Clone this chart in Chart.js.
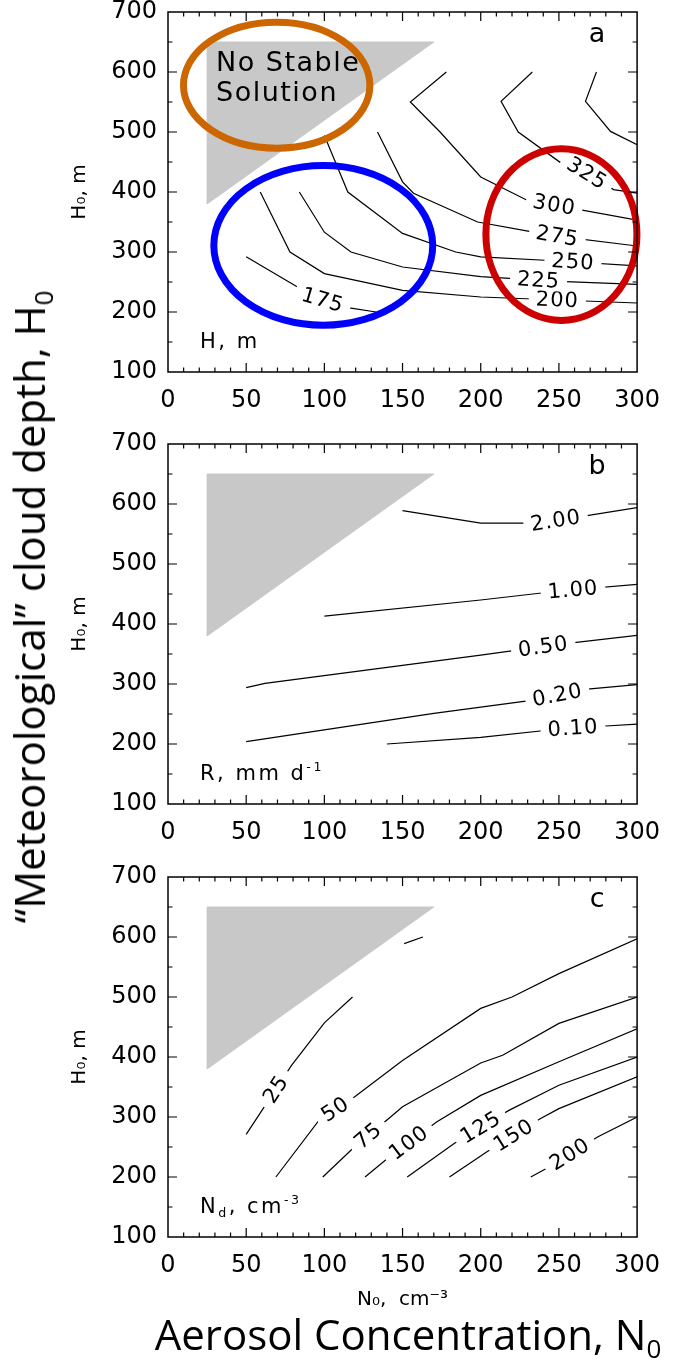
<!DOCTYPE html>
<html>
<head>
<meta charset="utf-8">
<script src="https://cdn.jsdelivr.net/npm/chart.js@4.4.1/dist/chart.umd.min.js"></script>
<style>
  html, body { margin: 0; padding: 0; background: #fff; }
  body { position: relative; width: 674px; height: 1365px; overflow: hidden; }
  canvas { position: absolute; left: 0; }
  .big { position: absolute; font-family: "Open Sans", sans-serif; font-size: 42px; line-height: 1; white-space: nowrap; color: #000; }
  .big sub { font-size: 0.62em; vertical-align: -0.3em; line-height: 0; }
  #yTitle { left: 29px; top: 607px; transform: translate(-50%, -50%) rotate(-90deg); }
  #xTitle { left: 408px; top: 1313px; transform: translateX(-50%); }
</style>
</head>
<body>
<canvas id="panelA" width="674" height="440" style="top:-18px"></canvas>
<canvas id="panelB" width="674" height="440" style="top:414px"></canvas>
<canvas id="panelC" width="674" height="470" style="top:847px"></canvas>
<div class="big" id="yTitle">“Meteorological” cloud depth, H<sub>0</sub></div>
<div class="big" id="xTitle">Aerosol Concentration, N<sub>0</sub></div>
<script>
const xTicks = [0, 50, 100, 150, 200, 250, 300];
const yTicks = [100, 200, 300, 400, 500, 600, 700];

// grey "no stable solution" region (N0, H0), same in every panel
const maskN0 = [25, 170, 25, 25];
const maskH0 = [650, 650, 380, 650];

// panel a: cloud depth H, m
const hLevels = ['175', '200', '225', '250', '275', '300', '325', ''];
const hContours = [
  [[50, 292], [82, 243], [99, 220], [116, 207], [133, 200]],
  [[59, 400], [78, 300], [100, 264], [150, 236], [200, 225], [250, 220], [300, 215]],
  [[84, 400], [100, 333], [117, 300], [150, 275], [200, 259], [250, 251], [300, 246]],
  [[100, 494], [115, 400], [150, 331], [184, 300], [200, 292], [250, 285], [300, 277]],
  [[134, 500], [150, 417], [157, 398], [198, 350], [232, 334], [250, 326], [300, 310]],
  [[178, 600], [155, 550], [174, 500], [200, 425], [229, 387], [250, 377], [300, 353]],
  [[233, 600], [213, 551], [224, 500], [251, 449], [268, 431], [285, 404], [300, 398]],
  [[274, 600], [267, 551], [283, 501], [300, 479]]
];
const hLabelAt = [99, 249, 237, 259, 249, 247, 268, null];

// highlight rings on panel a
const ringColors = ['#cc6600', '#0000ff', '#cc0000'];
const ringN0 = [69.5, 99.3, 251.6];
const ringH0 = [578, 311, 329];
const ringHalfN0 = [59.6, 70, 48.3];
const ringHalfH0 = [105, 133, 143];

// panel b: rain rate R, mm/d
const rLevels = ['2.00', '1.00', '0.50', '0.20', '0.10'];
const rContours = [
  [[150, 589], [200, 568], [238, 568], [300, 594]],
  [[100, 413], [200, 440], [250, 455], [300, 466]],
  [[50, 294], [62, 301], [200, 348], [250, 366], [300, 381]],
  [[50, 204], [170, 251], [230, 272], [270, 292], [300, 299]],
  [[140, 200], [200, 211], [250, 225], [280, 230], [300, 233]]
];
const rLabelAt = [248, 259, 240, 249, 259];

// panel c: droplet concentration Nd, cm-3
const nLevels = ['25', '', '50', '75', '100', '125', '150', '200'];
const nContours = [
  [[50, 271], [79, 386], [100, 457], [118, 500]],
  [[151, 589], [163, 600]],
  [[69, 200], [97, 296], [119, 333], [150, 394], [200, 481], [220, 500], [250, 539], [300, 597]],
  [[99, 200], [118, 247], [141, 297], [150, 317], [200, 390], [214, 403], [250, 456], [300, 500]],
  [[126, 200], [139, 228], [172, 292], [200, 336], [250, 392], [300, 447]],
  [[153, 200], [183, 256], [218, 311], [250, 353], [300, 400]],
  [[180, 200], [204, 242], [238, 297], [250, 314], [300, 367]],
  [[232, 200], [244, 217], [275, 267], [300, 300]]
];
const nLabelAt = [69, null, 107, 128, 154, 200, 221, 257];

const FONT = '"DejaVu Sans", sans-serif';
Chart.defaults.font.family = FONT;
Chart.defaults.color = '#000';

function contourSets(lines) {
  return lines.map((pts) => ({
    data: pts.map(([x, y]) => ({ x, y })),
    showLine: true, borderColor: '#000', borderWidth: 1.2,
    pointRadius: 0, fill: false, tension: 0, order: 1,
  }));
}

function maskSet() {
  return {
    data: maskN0.map((x, i) => ({ x, y: maskH0[i] })),
    showLine: true, fill: 'shape', backgroundColor: '#c8c8c8',
    borderColor: '#c8c8c8', borderWidth: 1, pointRadius: 0, order: 5,
  };
}

function labelSpot(chart, pts, atX) {
  const xs = chart.scales.x, ys = chart.scales.y;
  for (let i = pts.length - 2; i >= 0; i--) {
    const [x0, y0] = pts[i], [x1, y1] = pts[i + 1];
    if (x0 !== x1 && (atX - x0) * (atX - x1) <= 0) {
      const t = (atX - x0) / (x1 - x0);
      const px0 = xs.getPixelForValue(x0), py0 = ys.getPixelForValue(y0);
      const px1 = xs.getPixelForValue(x1), py1 = ys.getPixelForValue(y1);
      let ang = Math.atan2(py1 - py0, px1 - px0);
      if (ang > Math.PI / 2) ang -= Math.PI;
      if (ang < -Math.PI / 2) ang += Math.PI;
      return { x: px0 + t * (px1 - px0), y: py0 + t * (py1 - py0), ang };
    }
  }
  return null;
}

function drawRich(ctx, parts, x, y, size) {
  let cx = x;
  for (const p of parts) {
    const s = p.sub || p.sup ? size * 0.6 : size;
    ctx.font = `${s}px ${FONT}`;
    const dy = p.sub ? size * 0.2 : p.sup ? -size * 0.42 : 0;
    ctx.fillText(p.t, cx, y + dy);
    cx += ctx.measureText(p.t).width;
  }
}

function decor(cfg) {
  return {
    id: 'decor',
    afterDatasetsDraw(chart) {
      const { ctx, chartArea: a, scales: { x, y } } = chart;
      ctx.save();

      // contour labels with a white gap under them
      ctx.font = `21px ${FONT}`;
      ctx.letterSpacing = '1px';
      ctx.textAlign = 'center';
      ctx.textBaseline = 'middle';
      cfg.levels.forEach((lev, i) => {
        if (!lev || cfg.labelAt[i] == null) return;
        const s = labelSpot(chart, cfg.contours[i], cfg.labelAt[i]);
        if (!s) return;
        ctx.save();
        ctx.translate(s.x, s.y);
        ctx.rotate(s.ang);
        const w = ctx.measureText(lev).width;
        ctx.fillStyle = '#fff';
        ctx.fillRect(-w / 2 - 7, -10, w + 14, 20);
        ctx.fillStyle = '#000';
        ctx.fillText(lev, 0, 1);
        ctx.restore();
      });

      ctx.fillStyle = '#000';
      ctx.textAlign = 'left';
      ctx.textBaseline = 'alphabetic';
      ctx.letterSpacing = '2.5px';
      drawRich(ctx, cfg.corner, a.left + 32, a.bottom - 24, 21);

      ctx.letterSpacing = '0px';
      ctx.textAlign = 'center';
      ctx.font = `27px ${FONT}`;
      ctx.fillText(cfg.letter, a.right - 40, a.top + 30);

      if (cfg.note) {
        ctx.textAlign = 'left';
        ctx.letterSpacing = '1.5px';
        ctx.font = `27px ${FONT}`;
        cfg.note.forEach((line, i) => ctx.fillText(line, a.left + 48, a.top + 59 + i * 30));
      }

      if (cfg.rings) {
        ctx.lineWidth = 7;
        ringColors.forEach((c, i) => {
          const cx = x.getPixelForValue(ringN0[i]);
          const cy = y.getPixelForValue(ringH0[i]);
          const rx = Math.abs(x.getPixelForValue(ringN0[i] + ringHalfN0[i]) - cx);
          const ry = Math.abs(y.getPixelForValue(ringH0[i] + ringHalfH0[i]) - cy);
          ctx.strokeStyle = c;
          ctx.beginPath();
          ctx.ellipse(cx, cy, rx, ry, 0, 0, Math.PI * 2);
          ctx.stroke();
        });
      }

      // box with inward ticks on all four sides
      ctx.strokeStyle = '#000';
      ctx.lineWidth = 1.5;
      ctx.strokeRect(a.left, a.top, a.right - a.left, a.bottom - a.top);
      ctx.lineWidth = 1.2;
      ctx.beginPath();
      for (let v = 10; v < 300; v += 10) {
        const len = v % 50 === 0 ? 9 : 4.5;
        const px = x.getPixelForValue(v);
        ctx.moveTo(px, a.bottom); ctx.lineTo(px, a.bottom - len);
        ctx.moveTo(px, a.top); ctx.lineTo(px, a.top + len);
      }
      for (let v = 150; v < 700; v += 50) {
        const len = v % 100 === 0 ? 9 : 4.5;
        const py = y.getPixelForValue(v);
        ctx.moveTo(a.left, py); ctx.lineTo(a.left + len, py);
        ctx.moveTo(a.right, py); ctx.lineTo(a.right - len, py);
      }
      ctx.stroke();
      ctx.restore();
    },
  };
}

function makePanel(id, xAxisHeight, cfg, xTitle) {
  return new Chart(document.getElementById(id), {
    type: 'scatter',
    data: { datasets: [...contourSets(cfg.contours), maskSet()] },
    options: {
      responsive: false,
      animation: false,
      events: [],
      layout: { padding: { top: 30, right: 26, left: 0, bottom: 0 } },
      plugins: { legend: { display: false }, tooltip: { enabled: false } },
      scales: {
        x: {
          type: 'linear', min: 0, max: 300,
          afterBuildTicks: (s) => { s.ticks = xTicks.map((v) => ({ value: v })); },
          afterFit: (s) => { s.height = xAxisHeight; },
          grid: { display: false, drawTicks: false },
          border: { display: false },
          ticks: { font: { size: 24 }, color: '#000', padding: 14, maxRotation: 0, autoSkip: false },
          title: xTitle || { display: false },
        },
        y: {
          type: 'linear', min: 100, max: 700,
          afterBuildTicks: (s) => { s.ticks = yTicks.map((v) => ({ value: v })); },
          afterFit: (s) => { s.width = 168; },
          grid: { display: false, drawTicks: false },
          border: { display: false },
          ticks: { font: { size: 24 }, color: '#000', padding: 11, autoSkip: false },
          title: { display: true, text: 'H₀, m', font: { size: 20 }, color: '#000', padding: { top: 68, bottom: 0 } },
        },
      },
    },
    plugins: [decor(cfg)],
  });
}

makePanel('panelA', 50, {
  levels: hLevels, contours: hContours, labelAt: hLabelAt,
  letter: 'a', corner: [{ t: 'H, m' }],
  note: ['No Stable', 'Solution'], rings: true,
});

makePanel('panelB', 50, {
  levels: rLevels, contours: rContours, labelAt: rLabelAt,
  letter: 'b', corner: [{ t: 'R, mm d' }, { t: '-1', sup: true }],
});

makePanel('panelC', 80, {
  levels: nLevels, contours: nContours, labelAt: nLabelAt,
  letter: 'c', corner: [{ t: 'N' }, { t: 'd', sub: true }, { t: ', cm' }, { t: '-3', sup: true }],
}, { display: true, text: 'N₀,  cm⁻³', font: { size: 20 }, color: '#000', padding: { top: 0, bottom: 5 } });
</script>
</body>
</html>
